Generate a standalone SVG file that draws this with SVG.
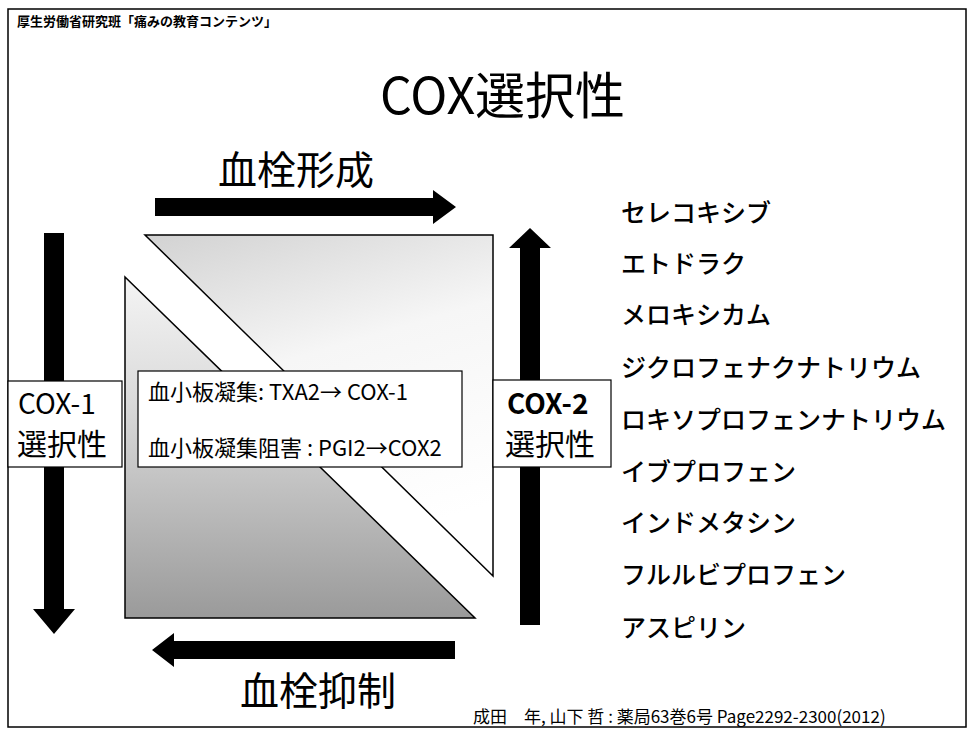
<svg xmlns="http://www.w3.org/2000/svg" width="968" height="731" viewBox="0 0 968 731">
<style>
  .jp { font-family: "Noto Sans CJK JP", "Noto Sans", sans-serif; fill: #000; }
  .box { fill: #fff; stroke: #000; stroke-width: 1.2; }
  .tri { stroke: #000; stroke-width: 1.5; stroke-linejoin: miter; }
  .arrow { fill: #000; }
  .drug { font-family: "Noto Sans CJK JP", sans-serif; font-size: 25px; font-weight: 500; fill: #000; }
</style>
<defs>
  <linearGradient id="gUp" x1="0" y1="0" x2="0.3" y2="1">
    <stop offset="0" stop-color="#d2d2d2"/>
    <stop offset="0.45" stop-color="#f6f6f6"/>
    <stop offset="1" stop-color="#ffffff"/>
  </linearGradient>
  <linearGradient id="gLow" x1="0" y1="0" x2="0" y2="1">
    <stop offset="0" stop-color="#f4f4f4"/>
    <stop offset="0.35" stop-color="#dcdcdc"/>
    <stop offset="1" stop-color="#9a9a9a"/>
  </linearGradient>
</defs>
<rect x="0" y="0" width="968" height="731" fill="#fff"/>
<rect x="8" y="9" width="958" height="718" fill="none" stroke="#000" stroke-width="1.5"/>

<g id="header">
  <text class="jp" x="17" y="26" font-size="13" font-weight="700">厚生労働省研究班「痛みの教育コンテンツ」</text>
</g>
<g id="title">
  <text class="jp" x="380" y="114" font-size="50">COX選択性</text>
</g>

<g id="triangles">
  <polygon id="tri-upper" class="tri" fill="url(#gUp)" points="145,235 493,235 493,576"/>
  <polygon id="tri-lower" class="tri" fill="url(#gLow)" points="125,277 125,618 475,618"/>
</g>

<g id="connectors">
  <polygon id="arrow-formation" class="arrow" points="155,198 433,198 433,190 456,207 433,224 433,216 155,216"/>
  <polygon id="arrow-suppression" class="arrow" points="455,641 174,641 174,633 152,650 174,667 174,659 455,659"/>
  <polygon id="arrow-cox1" class="arrow" points="44,233 64,233 64,609 75,609 54,634 33,609 44,609"/>
  <polygon id="arrow-cox2" class="arrow" points="520,625 540,625 540,248 551,248 530,228 509,248 520,248"/>
</g>

<g id="label-formation">
  <text class="jp" x="218" y="184" font-size="39">血栓形成</text>
</g>
<g id="label-suppression">
  <text class="jp" x="240" y="705" font-size="39">血栓抑制</text>
</g>

<g id="cox1">
  <rect class="box" x="8" y="381" width="114" height="86"/>
  <text class="jp" x="18" y="414" font-size="28">COX-1</text>
  <text class="jp" x="17" y="455" font-size="30">選択性</text>
</g>
<g id="cox2">
  <rect class="box" x="493" y="380" width="118" height="87"/>
  <text class="jp" x="507" y="414" font-size="28" font-weight="700">COX-2</text>
  <text class="jp" x="505" y="455" font-size="30">選択性</text>
</g>
<g id="platelet">
  <rect class="box" x="138" y="371" width="324" height="96"/>
  <text class="jp" x="148" y="400" font-size="22">血小板凝集: TXA2→ COX-1</text>
  <text class="jp" x="148" y="456" font-size="22">血小板凝集阻害 : PGI2→COX2</text>
</g>

<g id="drugs">
  <text class="drug" x="621" y="222">セレコキシブ</text>
  <text class="drug" x="621" y="273">エトドラク</text>
  <text class="drug" x="621" y="324">メロキシカム</text>
  <text class="drug" x="621" y="377">ジクロフェナクナトリウム</text>
  <text class="drug" x="621" y="429">ロキソプロフェンナトリウム</text>
  <text class="drug" x="621" y="481">イブプロフェン</text>
  <text class="drug" x="621" y="532">インドメタシン</text>
  <text class="drug" x="621" y="584">フルルビプロフェン</text>
  <text class="drug" x="621" y="637">アスピリン</text>
</g>

<g id="citation">
  <text class="jp" x="473" y="723" font-size="17">成田　年, 山下 哲 : 薬局63巻6号 Page2292-2300(2012)</text>
</g>
</svg>
